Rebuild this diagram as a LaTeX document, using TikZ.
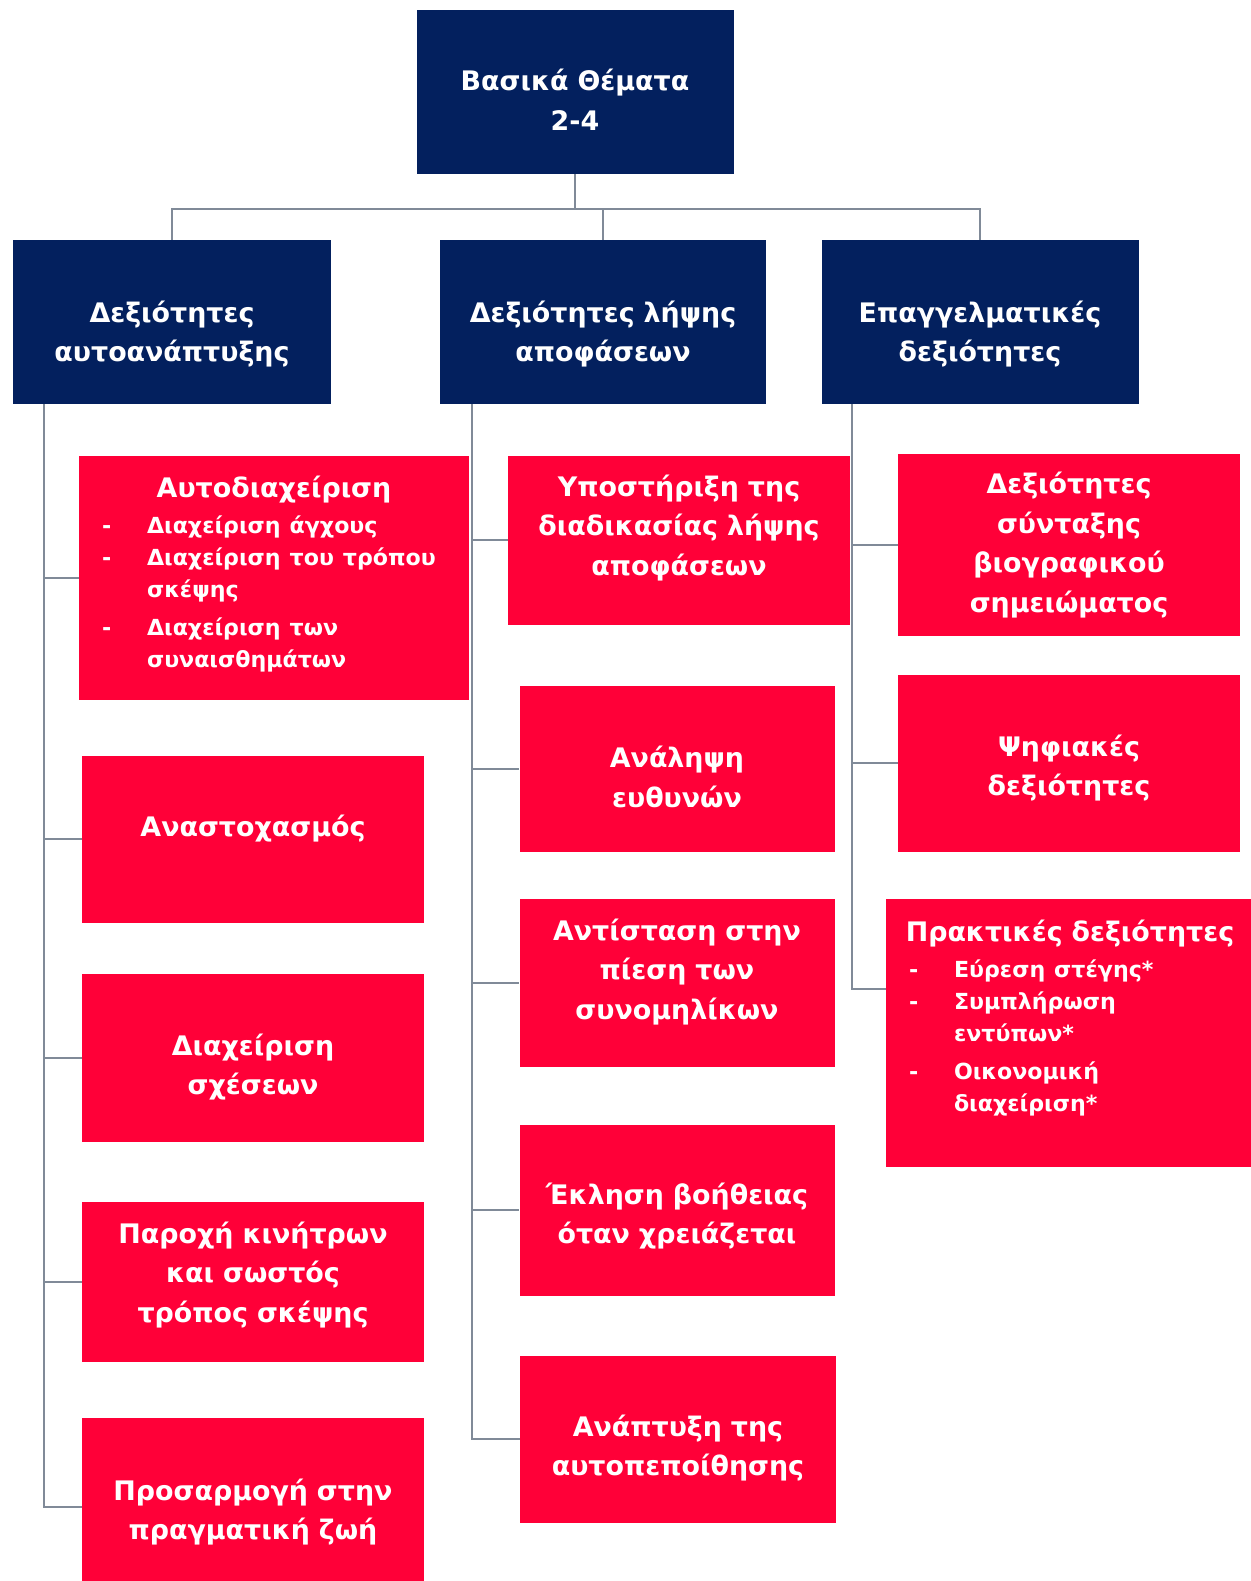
\documentclass[tikz,border=0pt]{standalone}
\usepackage{fontspec}
\setmainfont{DejaVu Sans}
\usetikzlibrary{calc}
\definecolor{chartnavy}{RGB}{3,32,94}
\definecolor{chartred}{RGB}{255,0,56}
\definecolor{linkgray}{RGB}{128,138,152}
\newlength{\pxunit}
\setlength{\pxunit}{0.02cm}
\newcommand{\listfont}{\fontsize{12.6}{18.3}\selectfont}
\newcommand{\dashitem}[1]{\par\hangindent=0.9cm\hangafter=1\noindent\makebox[0.9cm][l]{-}#1\par}
\newcommand{\boxtitle}[1]{\noindent\makebox[\linewidth][c]{#1}\par\vspace{4\pxunit}}
\tikzset{
  wh/.style 2 args={minimum width=#1\pxunit, minimum height=#2\pxunit, text width=#1\pxunit},
  lift/.style={execute at end node={\par\vspace*{#1\pxunit}\vspace*{#1\pxunit}}},
  drop/.style={lift={-#1}},
  headbox/.style={fill=chartnavy, text=white, align=center, inner sep=0pt,
    font=\bfseries\fontsize{15.3}{22.5}\selectfont},
  skillbox/.style={fill=chartred, text=white, align=center, inner sep=0pt,
    font=\bfseries\fontsize{15.3}{22.5}\selectfont},
  listbox/.style={skillbox, align=left, inner xsep=0.46cm},
  link/.style={draw=linkgray, line width=1.2pt},
}
\begin{document}
\begin{tikzpicture}[x=0.02cm, y=-0.02cm]
	\path[use as bounding box, fill=white] (0,0) rectangle (1250,1581);
	% top level
	\node[headbox, wh={317}{164}, drop=8] (top) at (575,92) {Βασικά Θέματα\\2-4};
	\node[headbox, wh={318}{164}, drop=12] (lroot) at (172,322) {Δεξιότητες\\αυτοανάπτυξης};
	\node[headbox, wh={326}{164}, drop=12] (mroot) at (603,322) {Δεξιότητες λήψης\\αποφάσεων};
	\node[headbox, wh={317}{164}, drop=12] (rroot) at (980,322) {Επαγγελματικές\\δεξιότητες};
	\coordinate (split) at (575,209);
	\draw[link] (top.south) -- (split);
	\draw[link] (lroot.north) |- (split) -| (rroot.north);
	\draw[link] (mroot.north) -- (mroot.north |- split);
	% left column
	\node[listbox, wh={390}{244}, text width=6.88cm, lift=4] (a1) at (274,578) {\boxtitle{Αυτοδιαχείριση}\listfont
		\dashitem{Διαχείριση άγχους}
		\dashitem{Διαχείριση του τρόπου\newline σκέψης}
		\vspace{6\pxunit}
		\dashitem{Διαχείριση των\newline συναισθημάτων}};
	\node[skillbox, wh={342}{167}, lift=10] (a2) at (253,839) {Αναστοχασμός};
	\node[skillbox, wh={342}{168}, drop=9] (a3) at (253,1058) {Διαχείριση\\σχέσεων};
	\node[skillbox, wh={342}{160}, lift=7] (a4) at (253,1282) {Παροχή κινήτρων\\και σωστός\\τρόπος σκέψης};
	\node[skillbox, wh={342}{178}, drop=5] (a5) at (253,1507) {Προσαρμογή στην\\πραγματική ζωή};
	% middle column
	\node[skillbox, wh={342}{169}, lift=12] (b1) at (679,540) {Υποστήριξη της\\διαδικασίας λήψης\\αποφάσεων};
	\node[skillbox, wh={315}{166}, drop=8] (b2) at (677,769) {Ανάληψη\\ευθυνών};
	\node[skillbox, wh={315}{168}, lift=11] (b3) at (677,983) {Αντίσταση στην\\πίεση των\\συνομηλίκων};
	\node[skillbox, wh={315}{171}, drop=6] (b4) at (677,1210) {Έκληση βοήθειας\\όταν χρειάζεται};
	\node[skillbox, wh={316}{167}, drop=9] (b5) at (678,1439) {Ανάπτυξη της\\αυτοπεποίθησης};
	% right column
	\node[skillbox, wh={342}{182}] (c1) at (1069,545) {Δεξιότητες\\σύνταξης\\βιογραφικού\\σημειώματος};
	\node[skillbox, wh={342}{177}, drop=5] (c2) at (1069,763) {Ψηφιακές\\δεξιότητες};
	\node[listbox, wh={368}{268}, text width=6.44cm, lift=15] (c3) at (1070,1033) {\boxtitle{Πρακτικές δεξιότητες}\listfont
		\dashitem{Εύρεση στέγης*}
		\dashitem{Συμπλήρωση\newline εντύπων*}
		\vspace{6\pxunit}
		\dashitem{Οικονομική\newline διαχείριση*}};
	% column links
	\draw[link] ($(lroot.south west)+(31,0)$) coordinate (lbus) |- (a5.west);
	\foreach \n in {a1,a2,a3,a4}
		\draw[link] (lbus |- \n.west) -- (\n.west);
	\draw[link] ($(mroot.south west)+(32,0)$) coordinate (mbus) |- (b5.west);
	\foreach \n in {b1,b2,b3,b4}
		\draw[link] (mbus |- \n.west) -- (\n.west);
	\draw[link] ($(rroot.south west)+(31,0)$) coordinate (rbus) |- ($(c3.west)+(0,-44)$);
	\foreach \n in {c1,c2}
		\draw[link] (rbus |- \n.west) -- (\n.west);
\end{tikzpicture}
\end{document}
